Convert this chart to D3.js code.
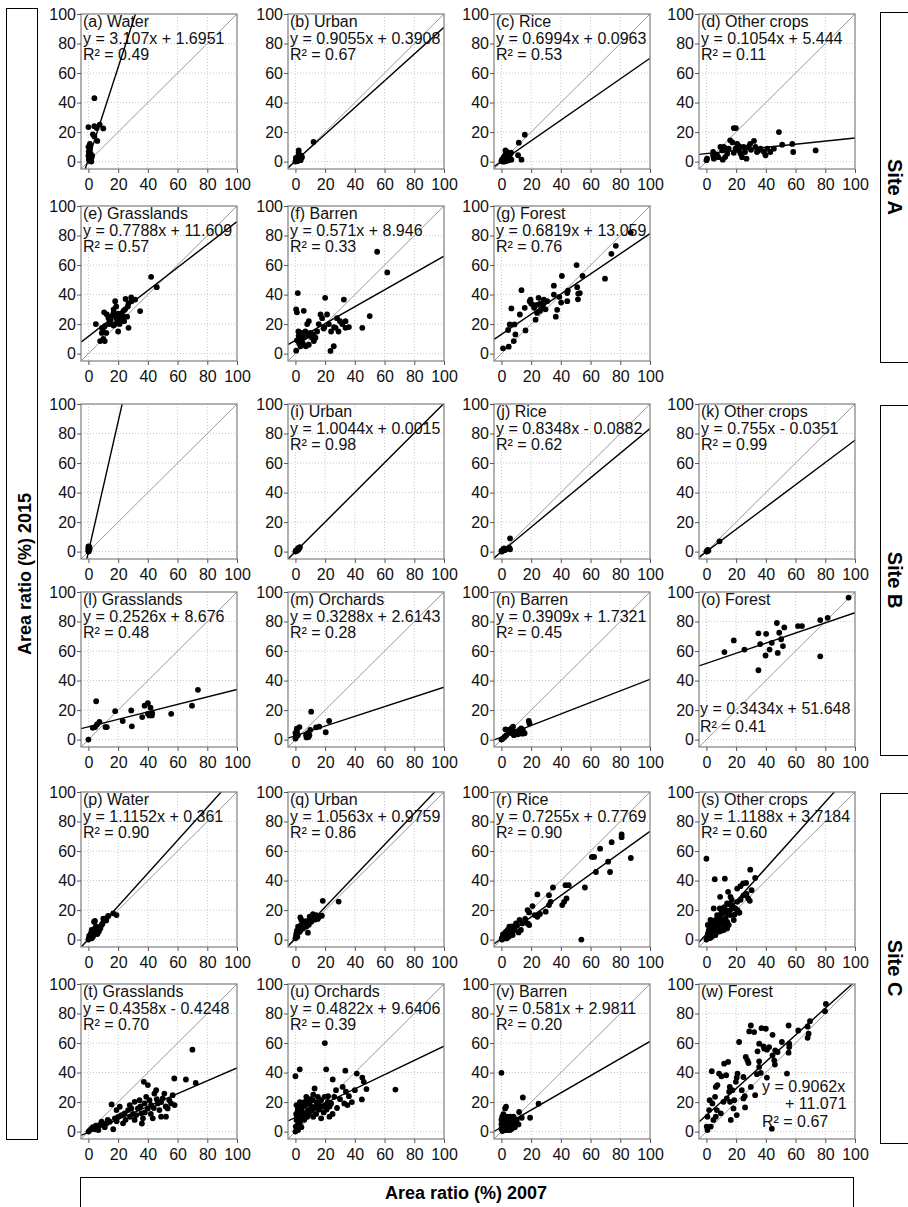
<!DOCTYPE html>
<html>
<head>
<meta charset="utf-8">
<script src="https://cdnjs.cloudflare.com/ajax/libs/d3/7.8.5/d3.min.js"></script>
<style>
  body { margin: 0; background: #fff; }
  text { font-family: Arial, "Liberation Sans", sans-serif; }
</style>
</head>
<body>
<svg id="fig" width="908" height="1207"></svg>
<script>
// ---- data: [area ratio 2007, area ratio 2015] per sample ----
const waterA = [[0,23.4],[4,43],[4,24],[7.6,25],[10,22.5],[5.6,22.7],[4,17],[6,14],[3,18.5],[1,12],[0,10],[1,8],[1.5,5.4],[0.5,3],[1,1],[2,0],[0.5,6.5],[0,4],[0.3,1.5],[2,2.5],[1.2,9.5],[0.2,7],[2.5,4],[0.8,0.5]];
const urbanA = [[12.2,13.3],[2.2,7.6],[2.2,5.4],[3.3,3.1],[4.4,3],[0.5,1],[1,2],[1.5,0.5],[0,0],[2.5,1.5],[3,2],[1.8,3.5],[0.8,0.3],[4,4],[3.5,1],[2,0.8],[1.2,1.4],[0.3,2.5]];
const riceA = [[15.7,18.2],[11.7,12.8],[11.2,4.3],[13.5,1.3],[2.7,7.6],[3.8,6.5],[6,5.4],[6.7,1.3],[5,1],[1,0],[0,0.5],[2,1.5],[3,2.5],[4,3.5],[1.5,3],[3.5,0.5],[2.5,4.5],[4.5,2],[5.5,3],[0.5,1.5],[2,0],[6.5,6]];
const otherA = [[0,1],[0.4,2],[5,2],[4.5,4.3],[4.5,6.5],[7.2,4.3],[9.4,10],[10.6,7.6],[11.7,10],[11,1.3],[12.6,3.1],[14,5.4],[15,8.8],[16,14.4],[17.5,13],[18.4,6],[19.6,8.8],[20.7,12],[21.8,7.6],[23,5.4],[24,3],[18.4,22.7],[19.8,22.7],[25,10],[26,6.5],[27,2],[28.3,10],[29.4,12],[32,14],[33,10],[34,6.5],[36.4,8.8],[38.7,6.5],[39.8,4.3],[41,8.8],[43,6.5],[45.4,8.8],[48.8,20],[51,11.5],[57.8,12],[58.4,6.5],[73.5,7.6],[13,9],[22,10.5],[30,8],[35,7.5],[8,3]];
const grassA = [[5,20],[7.9,8.5],[10,10],[11,8.5],[9,17.5],[10,15],[11,18.6],[10.6,28],[12.4,26.5],[13.5,24],[14.6,22],[15.7,25.4],[16.9,27.6],[18,35.5],[18.7,32],[19,24],[19.5,22],[20,15],[21,20],[21.3,24],[22.5,26.5],[23.6,29],[24.7,30],[25,37],[26.5,32],[27,34],[28.8,38],[29,35.5],[31.5,36.6],[27,17.5],[34.8,28.8],[42.2,52],[46,45],[16.9,19],[21,21],[15,23],[17,26],[18,20],[23,25],[12,14],[14,20],[20,27],[24,22],[26,25],[9,14],[17,30]];
const barrenA = [[0.5,2],[1.6,41],[0.5,30],[1,28],[5.6,29],[2.2,12],[3.4,5],[4.5,9.7],[6.7,15],[7.9,20],[9,22],[10,14],[11.2,10.8],[12.4,8.5],[13.5,10.8],[14.6,15],[15.7,20],[16.9,26.5],[18,24],[19,17],[20,37.8],[21.3,26.5],[22.5,20],[23.6,1.8],[25.8,5],[27,17.5],[28,24],[29,15],[31.5,20],[33.7,22],[32.6,36.6],[33.7,17.5],[45,17.5],[50,25.4],[55,69],[61.8,55],[2,15],[3,11],[4,14],[5,7],[6,11],[8,12],[1,9],[2.5,7],[7,5],[9,6],[12,13],[19.5,18],[24,15],[36,18],[30,22],[26,18]];
const forestA = [[1.1,3.6],[4.9,4.7],[4.5,16],[5.6,19.8],[8.8,19.8],[6.7,30.6],[8.3,8.5],[9.4,13],[12.4,26.5],[13.5,43],[15.7,31],[16.2,15.7],[19,35.5],[19.6,36.6],[21.3,33],[23,23],[24,27.6],[24,33],[25,37.8],[26.3,34],[27.4,31],[28.5,36.6],[29.7,30],[30.8,35.5],[35.3,46],[35.3,40],[36.6,25],[37.5,29.7],[39,38.4],[40.2,34.6],[40.7,52.6],[44.3,35.5],[44.3,41],[44.7,42.7],[50.6,60],[51,45],[51.5,36.8],[51.7,40.7],[52.8,41],[54.6,52.6],[69.7,50.8],[74,67.6],[77,73],[87,82],[22,31],[26,29],[28,33],[20,34]];
const waterB = [[0,0],[0,1],[0,2],[0.5,3],[0.8,2],[0,3.5],[0.3,0.5],[0.5,1.5],[0.2,2.5],[0.6,3.2]];
const urbanB = [[0,0],[0.5,0.5],[1,1],[1.5,1.2],[2,2],[2.5,2.5],[3,3],[0.3,0.8],[1.2,0.7],[2.2,1.6],[1.8,2.3]];
const riceB = [[5.8,9],[5.2,2.7],[5.8,1.6],[2.9,1.6],[1.8,2.2],[0.7,1.1],[0,0.5],[1.1,0.7],[0.3,0],[2.2,1],[1.5,1.8]];
const otherB = [[8.8,7],[0.2,0.4],[0.9,1.1],[0,0],[1.3,0.7],[0.6,0.2]];
const grassB = [[0,0],[5.2,26],[2.9,8],[4.5,8.5],[5.8,10.3],[7.4,12],[11.5,8.5],[12.4,8.5],[18,19.3],[23.1,12.6],[28.8,19.8],[29.2,9],[36.2,15.3],[37.8,23],[40,24.7],[40,17.5],[41,16.4],[41.8,21.6],[42.7,16.4],[42.9,18],[55.7,17.5],[69.7,23],[73.7,33.7]];
const orchB = [[0,0.7],[0.5,2.9],[0,4.5],[0.9,7.4],[2.7,8.5],[1.6,3],[7.2,3],[8.3,4.3],[9.4,3],[10,6.5],[10.6,18.9],[13.9,8.3],[16,8.8],[20.4,5],[22.7,12.6],[0.3,1.5],[1,5.5],[7.5,1.5],[8.8,1.8]];
const barrenB = [[0,0],[1.1,0.9],[2.2,2],[3.3,3],[2.7,7],[4.4,6.5],[6.7,7.6],[7.8,8.8],[6.7,4.3],[8.4,3],[10,5.4],[11.1,3.6],[12.2,6.5],[13.3,7.6],[14.4,6.5],[15.6,4.3],[18.4,12.6],[18.9,11],[9,4.5],[5.5,5.5],[7.2,5.8],[12,4.5],[14,4]];
const forestB = [[12.1,59.3],[18.4,67.2],[25.6,61],[35,72],[36.2,64.7],[35,47],[40.2,71.7],[39.8,57],[42.5,61],[44,65.6],[47.4,79],[48,58.7],[49,72.4],[50.3,68],[51.5,63.4],[52.4,76],[61.6,76.9],[64.3,76.9],[76.6,81],[81.6,82.5],[76.6,56.4],[95.7,96.2]];
const waterC = [[3.8,12.1],[4.4,12.6],[10,14.2],[11.8,14.4],[13.3,16],[16.7,17.8],[18.9,16.6],[2.2,6.5],[6.7,6.5],[7.8,8.8],[8.9,9.9],[5.6,4.3],[3.3,3.1],[1.1,2],[0.4,0.9],[4.4,7.6],[2.2,0.9],[0,0],[1.5,4],[2.8,5.2],[5,9],[6,7.5],[9.5,11],[3,2],[1,1],[0.5,2.5],[7,5.5],[4,5.5],[2,3.5],[6,3.8],[12,13],[8,7.5]];
const urbanC = [[18.4,26.3],[29.1,25.8],[17.8,16.2],[16.2,15.5],[14,16.6],[11.8,17.3],[9.6,15.5],[3.3,15],[4,13.3],[5.1,12.1],[6.2,11],[7.3,8.8],[8.4,4.7],[1.8,8.8],[0.7,4.3],[0,0.9],[1.3,2],[2.9,5.4],[5.1,7.6],[10.7,12.1],[12.7,14.5],[0.5,3],[2,6.5],[3.5,9.5],[6.5,9.5],[8,11.5],[9,10],[10,13.5],[13,13.5],[15,14],[7,12.5],[4.5,10.5],[1,6],[0.3,1.5]];
const riceC = [[53.8,0],[80.9,71.2],[80.9,69.4],[87.1,55.3],[74.2,66],[66.4,61.6],[60.9,56],[62.4,56],[71.8,52.8],[73.1,45.8],[63.6,45.8],[56.2,35.3],[43.1,36.9],[45.3,36.9],[43.8,27.9],[42.2,25.6],[40.9,23.4],[34.7,35.3],[32,30.1],[33.1,25.6],[32,23.4],[29.8,18.9],[24.2,30.6],[20.9,22.7],[17.6,20],[18.7,18.4],[17.6,11],[18.7,9.9],[22.4,16.6],[24.2,15.5],[25.3,17],[13.1,6.5],[11.6,4.9],[9.8,11],[12.2,13.3],[7.6,3.1],[6.4,7.6],[5.3,8.8],[4.2,6.5],[3.1,5.4],[2,3.1],[0.9,2],[0.2,0.9],[1.5,1],[3,2.5],[4.5,3],[6,5],[8,6],[5,2],[2.5,4.5],[7,9],[9,7],[10.5,9.5],[1,3.5],[0.5,0],[3.5,0.8],[26,17.5],[14,11],[16,14]];
const otherC = [[0,54.8],[5.6,40.9],[9.2,29],[12.4,41.3],[14.6,32.4],[16.2,29],[13.9,24.5],[17.3,23.4],[20.7,25.6],[20.7,34.6],[22.9,36.2],[24.7,38],[26.7,38.4],[29.5,47.4],[32.8,41.8],[30.4,33.5],[28.1,27.9],[29.2,26.3],[22.2,18.2],[19.5,21.1],[16.2,16.6],[13.9,7.6],[9.4,12.1],[6.1,13.3],[2.7,13.3],[0.9,9.9],[3.8,6.5],[7.2,8.8],[10.6,9.9],[12.8,14.4],[11.7,18.9],[9,21.1],[7.2,16.6],[4.9,21.1],[2.7,4.3],[1.6,2],[0.4,0.9],[4.9,3.1],[8.3,5.4],[11.7,6.5],[15,9.9],[18.4,13.3],[0,0],[1,4],[2,7],[3,10],[4,12],[5,9],[6,5],[7,11],[8,14],[9,16],[10,18],[11,13],[12,22],[13,20],[14,17],[15,24],[16,20],[17,27],[18,22],[19,17],[21,20],[23,27],[25,30],[27,31],[12,10],[10,6],[6,3],[3,1.5],[5,6],[8,9],[14,12],[1.5,6],[2,1],[4,2.5]];
const grassC = [[70,55.5],[57.8,36],[65.6,35.3],[72.2,33],[56.7,24.7],[15.6,18.4],[37.3,33.7],[40,31.5],[16.7,1.6],[1.1,1.1],[2.2,2.2],[4.4,1.6],[6.7,1.1],[7.8,4.5],[8.9,6.7],[12.2,5.6],[14.4,6.7],[17.8,9],[18.9,14.6],[21.1,16.9],[22.2,11.2],[23.3,5.6],[24.4,12.4],[26.7,14.6],[27.8,18],[28.9,15.7],[31.1,7.9],[32.2,11.2],[33.3,15.7],[34.4,21.3],[35.6,12.4],[36.7,9],[37.8,19.1],[38.9,23.6],[40,15.7],[41.1,21.3],[42.2,18],[43.3,9],[44.4,25.8],[45.6,28.1],[46.7,19.1],[47.8,14.6],[48.9,10.1],[50,22.5],[51.1,25.8],[52.2,10.1],[53.3,15.7],[54.4,21.3],[55.6,19.1],[31.1,20.2],[0,0],[3,3],[5,4],[10,5],[11,3],[13,8],[20,10],[25,8],[30,12],[38,13],[42,12],[46,22],[49,20],[52,17],[35,17],[28,10],[44,16],[58,18],[19,7],[36,5.5]];
const orchC = [[19.8,60],[2.9,42.2],[0,37.5],[20.7,42.2],[33.6,41.3],[25.1,35.3],[41.3,39.3],[45,36.6],[46,33.7],[47.8,28.8],[40,28.1],[67.3,28.5],[44.7,21.8],[31.8,30.3],[34,27],[35,18],[32.9,19.1],[27.3,28.1],[22.9,10.1],[17.3,9],[12.9,29.2],[9.6,19.1],[7.3,23.6],[5.1,16.9],[2.9,12.4],[0.7,7.9],[0.2,3.4],[1.8,5.6],[4,9],[6.2,11.2],[8.4,14.6],[10.7,16.9],[11.8,21.3],[14,18],[15.1,23.6],[17.3,21.3],[19.6,23.6],[21.8,20.2],[24,19.1],[26.2,23.6],[0.7,18],[2.9,18],[5.1,19.1],[1.8,1.1],[0,0],[1,10],[2,14],[3,6],[4,3],[5,13],[6,8],[7,18],[8,10],[9,12],[10,22],[11,14],[12,10],[13,16],[14,12],[15,20],[16,15],[18,17],[19,13],[20,18],[21,15],[22,24],[23,17],[25,12],[28,16],[30,22],[36,24],[38,20],[3,20],[1.5,15],[0.5,12],[2,9],[4,16],[6,20],[8,22],[12,25],[16,18]];
const barrenC = [[0,39.8],[14.4,23.1],[25,18.9],[19.3,9.4],[3.1,16.9],[2.5,15.7],[1.3,11.9],[11.9,13.3],[13.7,9.4],[10.3,7.9],[11.5,4.9],[5.8,10.1],[7,6.7],[8.1,4.5],[4.7,6.7],[3.6,4.5],[2.5,2.9],[1.3,1.6],[0.7,0.4],[3.6,10.1],[2.5,7.9],[4.7,3.4],[5.8,1.1],[8.1,10.1],[9.2,6.7],[0,2],[0,5],[0,8],[1,3],[1,6],[2,1],[2,5],[3,2],[3,7],[4,1],[4,9],[5,4],[6,6],[6,3],[7,2],[8,8],[9,3],[10,5],[1.5,9],[0.5,10]];
const forestC = [[80.4,86.5],[79.8,81.6],[69.7,74.8],[68.1,71.2],[68.8,66.3],[68.1,63.6],[61.8,68.5],[55.3,71.9],[50.8,60.7],[55.7,59.6],[55.3,53.5],[54.2,39.3],[46.3,55.1],[45.6,48.3],[46.1,45.4],[44.5,65.6],[44.5,51.7],[40,69.7],[37.1,70.1],[40.7,55.5],[38.4,57.8],[35.5,59.6],[34.4,54.4],[35.5,47.6],[34,38.9],[32.1,67.4],[28.8,67.9],[29.9,71.9],[40.7,36.6],[44,2],[26.5,50.6],[27.6,48.3],[28.3,46.5],[22,60.7],[20.9,39.3],[20.4,36.6],[19.8,33.7],[24.9,37],[23.8,28.1],[25.8,24],[26,16.4],[20.4,11.2],[16.4,7.9],[18.2,15.7],[15.3,27],[17.5,28.1],[15.7,30.3],[14.6,47.2],[11.9,46],[13.3,38.2],[10.1,37.5],[8.5,39.3],[7.4,31.5],[6.3,30.3],[5.8,23.6],[4,19.1],[3.6,40.9],[2.2,21.3],[1.8,14.6],[0.7,10.1],[0.2,3.4],[0.7,1.1],[2.9,3.4],[4.7,7.9],[6.3,10.1],[7,14.6],[9.7,12.4],[11.5,20.2],[13.7,22.5],[15.9,20.2],[29.9,30.3],[32.8,24.7],[24.9,22.5],[18.7,21.3],[36.6,39.8],[35.5,43.8],[38.9,56.2],[42.2,57.3],[47.9,53.9],[55.7,57.3]];

// panel metadata
const panelIds    = ["a","b","c","d","e","f","g","h","i","j","k","l","m","n","o","p","q","r","s","t","u","v","w"];
const panelNames  = ["Water","Urban","Rice","Other crops","Grasslands","Barren","Forest","","Urban","Rice","Other crops","Grasslands","Orchards","Barren","Forest","Water","Urban","Rice","Other crops","Grasslands","Orchards","Barren","Forest"];
const panelPoints = [waterA,urbanA,riceA,otherA,grassA,barrenA,forestA,waterB,urbanB,riceB,otherB,grassB,orchB,barrenB,forestB,waterC,urbanC,riceC,otherC,grassC,orchC,barrenC,forestC];
const slopes      = [3.107,0.9055,0.6994,0.1054,0.7788,0.571,0.6819,4.41,1.0044,0.8348,0.755,0.2526,0.3288,0.3909,0.3434,1.1152,1.0563,0.7255,1.1188,0.4358,0.4822,0.581,0.9062];
const intercepts  = [1.6951,0.3908,0.0963,5.444,11.609,8.946,13.059,-0.15,0.0015,-0.0882,-0.0351,8.676,2.6143,1.7321,51.648,0.361,0.9759,0.7769,3.7184,-0.4248,9.6406,2.9811,11.071];
const eqLabels    = ["y = 3.107x + 1.6951","y = 0.9055x + 0.3908","y = 0.6994x + 0.0963","y = 0.1054x + 5.444","y = 0.7788x + 11.609","y = 0.571x + 8.946","y = 0.6819x + 13.059","","y = 1.0044x + 0.0015","y = 0.8348x - 0.0882","y = 0.755x - 0.0351","y = 0.2526x + 8.676","y = 0.3288x + 2.6143","y = 0.3909x + 1.7321","y = 0.3434x + 51.648","y = 1.1152x + 0.361","y = 1.0563x + 0.9759","y = 0.7255x + 0.7769","y = 1.1188x + 3.7184","y = 0.4358x - 0.4248","y = 0.4822x + 9.6406","y = 0.581x + 2.9811","y = 0.9062x|+ 11.071"];
const r2Labels    = ["0.49","0.67","0.53","0.11","0.57","0.33","0.76","","0.98","0.62","0.99","0.48","0.28","0.45","0.41","0.90","0.86","0.90","0.60","0.70","0.39","0.20","0.67"];
const gridRows    = [0,0,0,0,1,1,1,2,2,2,2,3,3,3,3,4,4,4,4,5,5,5,5];
const gridCols    = [0,1,2,3,0,1,2,0,1,2,3,0,1,2,3,0,1,2,3,0,1,2,3];
const tickVals    = [0,20,40,60,80,100];
const siteNames   = ["Site A","Site B","Site C"];

// layout
const colX = [81, 288, 494, 699];
const rowY = [14, 206, 404, 592, 792, 984];
const pw = 156, ph = 155;

const svg = d3.select("#fig");

const x = d3.scaleLinear().domain([-5, 100]).range([0, pw]);
const y = d3.scaleLinear().domain([-5, 100]).range([ph, 0]);

const line = d3.line().x(d => x(d[0])).y(d => y(d[1]));

panelIds.forEach(function(id, i) {
  const g = svg.append("g")
    .attr("transform", "translate(" + colX[gridCols[i]] + "," + rowY[gridRows[i]] + ")");

  // dotted grid
  g.selectAll(".gx").data(tickVals.slice(0, 5)).enter().append("line")
    .attr("x1", d => x(d)).attr("x2", d => x(d))
    .attr("y1", 0).attr("y2", ph)
    .attr("stroke", "#c8c8c8").attr("stroke-dasharray", "1,2");
  g.selectAll(".gy").data(tickVals.slice(0, 5)).enter().append("line")
    .attr("y1", d => y(d)).attr("y2", d => y(d))
    .attr("x1", 0).attr("x2", pw)
    .attr("stroke", "#c8c8c8").attr("stroke-dasharray", "1,2");

  const clipId = "clip-" + id;
  g.append("clipPath").attr("id", clipId)
    .append("rect").attr("width", pw).attr("height", ph);
  const inner = g.append("g").attr("clip-path", "url(#" + clipId + ")");

  // 1:1 line
  inner.append("path")
    .attr("d", line([[-5, -5], [100, 100]]))
    .attr("stroke", "#999").attr("stroke-width", 1).attr("fill", "none");

  // fitted line
  const s = slopes[i], b = intercepts[i];
  inner.append("path")
    .attr("d", line([[-5, s * -5 + b], [100, s * 100 + b]]))
    .attr("stroke", "#000").attr("stroke-width", 1.4).attr("fill", "none");

  // points
  inner.selectAll("circle").data(panelPoints[i]).enter().append("circle")
    .attr("cx", d => x(d[0])).attr("cy", d => y(d[1]))
    .attr("r", 2.9).attr("fill", "#000");

  // frame
  g.append("rect").attr("width", pw).attr("height", ph)
    .attr("fill", "none").attr("stroke", "#888").attr("stroke-width", 1.3);

  // axes
  const ay = g.append("g")
    .call(d3.axisLeft(y).tickValues(tickVals).tickSize(4).tickSizeOuter(0).tickPadding(1));
  const ax = g.append("g").attr("transform", "translate(0," + ph + ")")
    .call(d3.axisBottom(x).tickValues(tickVals).tickSize(4).tickSizeOuter(0).tickPadding(6));
  [ax, ay].forEach(function(a) {
    a.select(".domain").remove();
    a.selectAll("line").attr("stroke", "#555");
    a.selectAll("text").attr("font-size", 16).attr("font-family", "Arial, 'Liberation Sans', sans-serif").attr("fill", "#111");
  });

  // annotation
  if (!panelNames[i]) return;
  const ann = g.append("g").attr("font-size", 16).attr("fill", "#111");
  ann.append("text").attr("x", 2).attr("y", 13).text("(" + id + ") " + panelNames[i]);
  const r2 = "R\u00b2 = " + r2Labels[i];
  if (id === "o") {
    ann.append("text").attr("x", 1).attr("y", 122).text(eqLabels[i]);
    ann.append("text").attr("x", 1).attr("y", 140).text(r2);
  } else if (id === "w") {
    const parts = eqLabels[i].split("|");
    ann.append("text").attr("x", 63).attr("y", 108).text(parts[0]);
    ann.append("text").attr("x", 86).attr("y", 125).text(parts[1]);
    ann.append("text").attr("x", 63).attr("y", 143).text(r2);
  } else {
    ann.append("text").attr("x", 2).attr("y", 29.5).text(eqLabels[i]);
    ann.append("text").attr("x", 2).attr("y", 46).text(r2);
  }
});

// left title box
svg.append("rect").attr("x", 6.5).attr("y", 8.5).attr("width", 31).attr("height", 1131)
  .attr("fill", "none").attr("stroke", "#000");
svg.append("text")
  .attr("transform", "translate(25,574) rotate(-90)")
  .attr("dy", "0.35em").attr("text-anchor", "middle")
  .attr("font-size", 18).attr("font-weight", "bold")
  .text("Area ratio (%) 2015");

// bottom title box
svg.append("rect").attr("x", 80.5).attr("y", 1177.5).attr("width", 773).attr("height", 40)
  .attr("fill", "none").attr("stroke", "#000");
svg.append("text")
  .attr("x", 466).attr("y", 1199)
  .attr("text-anchor", "middle")
  .attr("font-size", 18).attr("font-weight", "bold")
  .text("Area ratio (%) 2007");

// site boxes
const siteTop = [12, 405, 793];
const siteHeight = 350;
siteNames.forEach(function(name, k) {
  svg.append("rect").attr("x", 880.5).attr("y", siteTop[k] + 0.5)
    .attr("width", 40).attr("height", siteHeight)
    .attr("fill", "none").attr("stroke", "#000");
  svg.append("text")
    .attr("transform", "translate(895," + (siteTop[k] + siteHeight / 2) + ") rotate(90)")
    .attr("dy", "0.35em").attr("text-anchor", "middle")
    .attr("font-family", "'Liberation Serif', 'DejaVu Serif', serif")
    .attr("font-size", 20).attr("font-weight", "bold")
    .text(name);
});
</script>
</body>
</html>
